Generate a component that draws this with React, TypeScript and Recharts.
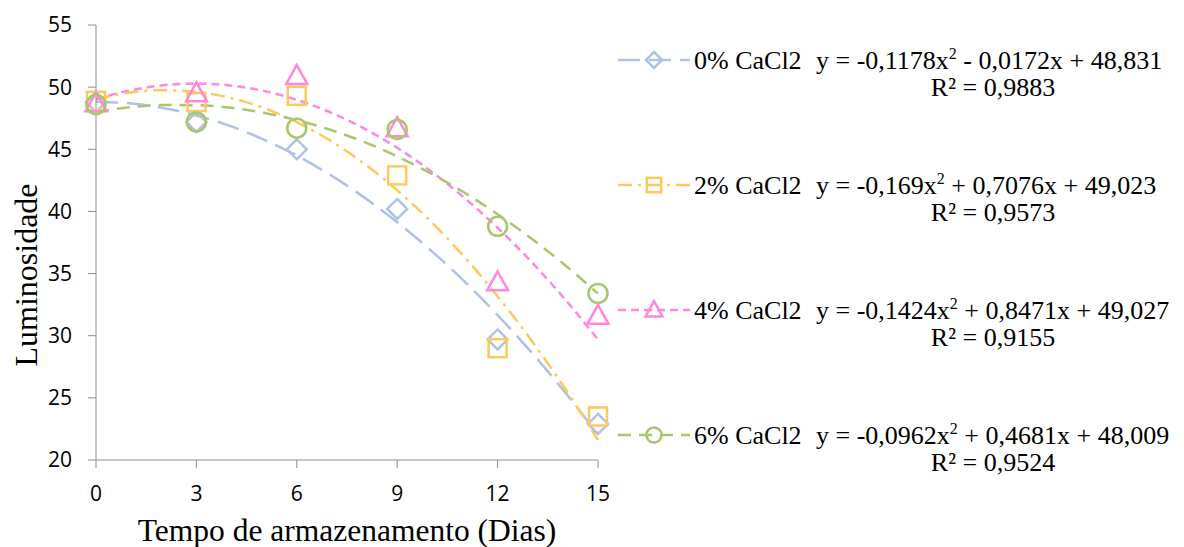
import { ComposedChart, Line, Scatter, XAxis, YAxis } from "recharts";

// measured points (Luminosidade por dia)
const days = [0, 3, 6, 9, 12, 15];
const lum0 = [48.8, 47.2, 45.0, 40.2, 29.7, 22.9];
const lum2 = [48.9, 48.8, 49.3, 42.9, 29.0, 23.5];
const lum4 = [48.7, 49.5, 50.9, 46.7, 34.3, 31.6];
const lum6 = [48.6, 47.2, 46.7, 46.6, 38.8, 33.4];

// polynomial trendlines, read day by day
const trendDays = [0, 1, 2, 3, 4, 5, 6, 7, 8, 9, 10, 11, 12, 13, 14, 15];
const trend0 = [48.83, 48.7, 48.33, 47.72, 46.88, 45.8, 44.49, 42.94, 41.15, 39.13, 36.88, 34.39, 31.66, 28.7, 25.5, 22.07];
const trend2 = [49.02, 49.56, 49.76, 49.62, 49.15, 48.34, 47.18, 45.7, 43.87, 41.7, 39.2, 36.36, 33.18, 29.66, 25.81, 21.61];
const trend4 = [49.03, 49.73, 50.15, 50.29, 50.14, 49.7, 48.98, 47.98, 46.69, 45.12, 43.26, 41.11, 38.69, 35.97, 32.98, 29.69];
const trend6 = [48.01, 48.38, 48.56, 48.55, 48.34, 47.94, 47.35, 46.57, 45.6, 44.43, 43.07, 41.52, 39.77, 37.84, 35.71, 33.39];

const xTicks = [0, 3, 6, 9, 12, 15];
const yTicks = [20, 25, 30, 35, 40, 45, 50, 55];

const seriesNames = ["0% CaCl2", "2% CaCl2", "4% CaCl2", "6% CaCl2"];
const equations = [
  ["y = -0,1178x", " - 0,0172x + 48,831"],
  ["y = -0,169x", " + 0,7076x + 49,023"],
  ["y = -0,1424x", " + 0,8471x + 49,027"],
  ["y = -0,0962x", " + 0,4681x + 48,009"],
];
const rSquared = ["R² = 0,9883", "R² = 0,9573", "R² = 0,9155", "R² = 0,9524"];

const colors = ["#aec2e8", "#ffc85c", "#ff88de", "#a8c66c"];
const dashes = ["22 9", "14 6 3 6", "8 5", "13 8"];
const shapes = ["diamond", "square", "triangle", "circle"];

const trendTable = trendDays.map((x, i) => ({
  x,
  t0: trend0[i],
  t2: trend2[i],
  t4: trend4[i],
  t6: trend6[i],
}));
const toPoints = (vals: number[]) => days.map((x, i) => ({ x, y: vals[i] }));
const pointSets = [toPoints(lum0), toPoints(lum2), toPoints(lum4), toPoints(lum6)];

function marker(kind: string, cx: number, cy: number, r: number, color: string) {
  const common = { fill: "none", stroke: color, strokeWidth: 2.5 };
  if (kind === "diamond")
    return <path d={`M${cx},${cy - r}L${cx + r},${cy}L${cx},${cy + r}L${cx - r},${cy}Z`} {...common} />;
  if (kind === "square")
    return <rect x={cx - r * 0.9} y={cy - r * 0.9} width={r * 1.8} height={r * 1.8} {...common} />;
  if (kind === "triangle")
    return <path d={`M${cx},${cy - r * 1.1}L${cx + r * 1.05},${cy + r * 0.8}L${cx - r * 1.05},${cy + r * 0.8}Z`} {...common} />;
  return <circle cx={cx} cy={cy} r={r * 0.95} {...common} />;
}

const makeShape = (i: number) => (props: any) => marker(shapes[i], props.cx, props.cy, 10, colors[i]);

const serif = "'Liberation Serif', 'Times New Roman', serif";
const sans = "'Open Sans', 'Noto Sans', sans-serif";

const YTitle = () => (
  <text x={18} y={267} transform="rotate(-90 18 267)" textAnchor="middle" dominantBaseline="central" fontFamily={serif} fontSize={32} fill="#000">
    Luminosidade
  </text>
);
const XTitle = () => (
  <text x={339} y={533} textAnchor="middle" fontFamily={serif} fontSize={31.5} fill="#000">
    Tempo de armazenamento (Dias)
  </text>
);

function LegendOverlay() {
  const rows = [52, 177, 302, 427];
  return (
    <svg width={1176} height={539} style={{ position: "absolute", left: 0, top: 0, pointerEvents: "none" }}>
      {rows.map((y, i) => (
        <g key={seriesNames[i]}>
          <line x1={610} y1={y} x2={682} y2={y} stroke={colors[i]} strokeWidth={2.5} strokeDasharray={dashes[i]} />
          {marker(shapes[i], 646, y, 8, colors[i])}
          <text x={686} y={y + 9} fontFamily={serif} fontSize={26} fill="#000">
            {seriesNames[i]}
          </text>
          <text x={808} y={y + 9} fontFamily={serif} fontSize={26} fill="#000">
            {equations[i][0]}
            <tspan dy={-10} fontSize={16}>2</tspan>
            <tspan dy={10}>{equations[i][1]}</tspan>
          </text>
          <text x={985} y={y + 36} textAnchor="middle" fontFamily={serif} fontSize={26} fill="#000">
            {rSquared[i]}
          </text>
        </g>
      ))}
    </svg>
  );
}

export default function App() {
  const tick = { fill: "#000", fontSize: 21, fontFamily: sans };
  return (
    <div style={{ position: "relative", width: 1176, height: 539 }}>
      <ComposedChart width={1176} height={539} data={trendTable} margin={{ top: 17, right: 586, bottom: 27, left: 28 }}>
        <XAxis
          type="number"
          dataKey="x"
          domain={[0, 15]}
          ticks={xTicks}
          stroke="#8c8c8c"
          tickSize={8}
          tickMargin={18}
          tick={tick}
          height={60}
          label={<XTitle />}
        />
        <YAxis
          type="number"
          domain={[20, 55]}
          ticks={yTicks}
          stroke="#8c8c8c"
          tickSize={8}
          tickMargin={16}
          tick={tick}
          width={60}
          label={<YTitle />}
        />
        <Line dataKey="t0" type="monotone" stroke={colors[0]} strokeWidth={2.5} strokeDasharray={dashes[0]} dot={false} activeDot={false} isAnimationActive={false} />
        <Line dataKey="t2" type="monotone" stroke={colors[1]} strokeWidth={2.5} strokeDasharray={dashes[1]} dot={false} activeDot={false} isAnimationActive={false} />
        <Line dataKey="t4" type="monotone" stroke={colors[2]} strokeWidth={2.5} strokeDasharray={dashes[2]} dot={false} activeDot={false} isAnimationActive={false} />
        <Line dataKey="t6" type="monotone" stroke={colors[3]} strokeWidth={2.5} strokeDasharray={dashes[3]} dot={false} activeDot={false} isAnimationActive={false} />
        {pointSets.map((pts, i) => (
          <Scatter key={seriesNames[i]} data={pts} dataKey="y" shape={makeShape(i)} isAnimationActive={false} />
        ))}
      </ComposedChart>
      <LegendOverlay />
    </div>
  );
}
